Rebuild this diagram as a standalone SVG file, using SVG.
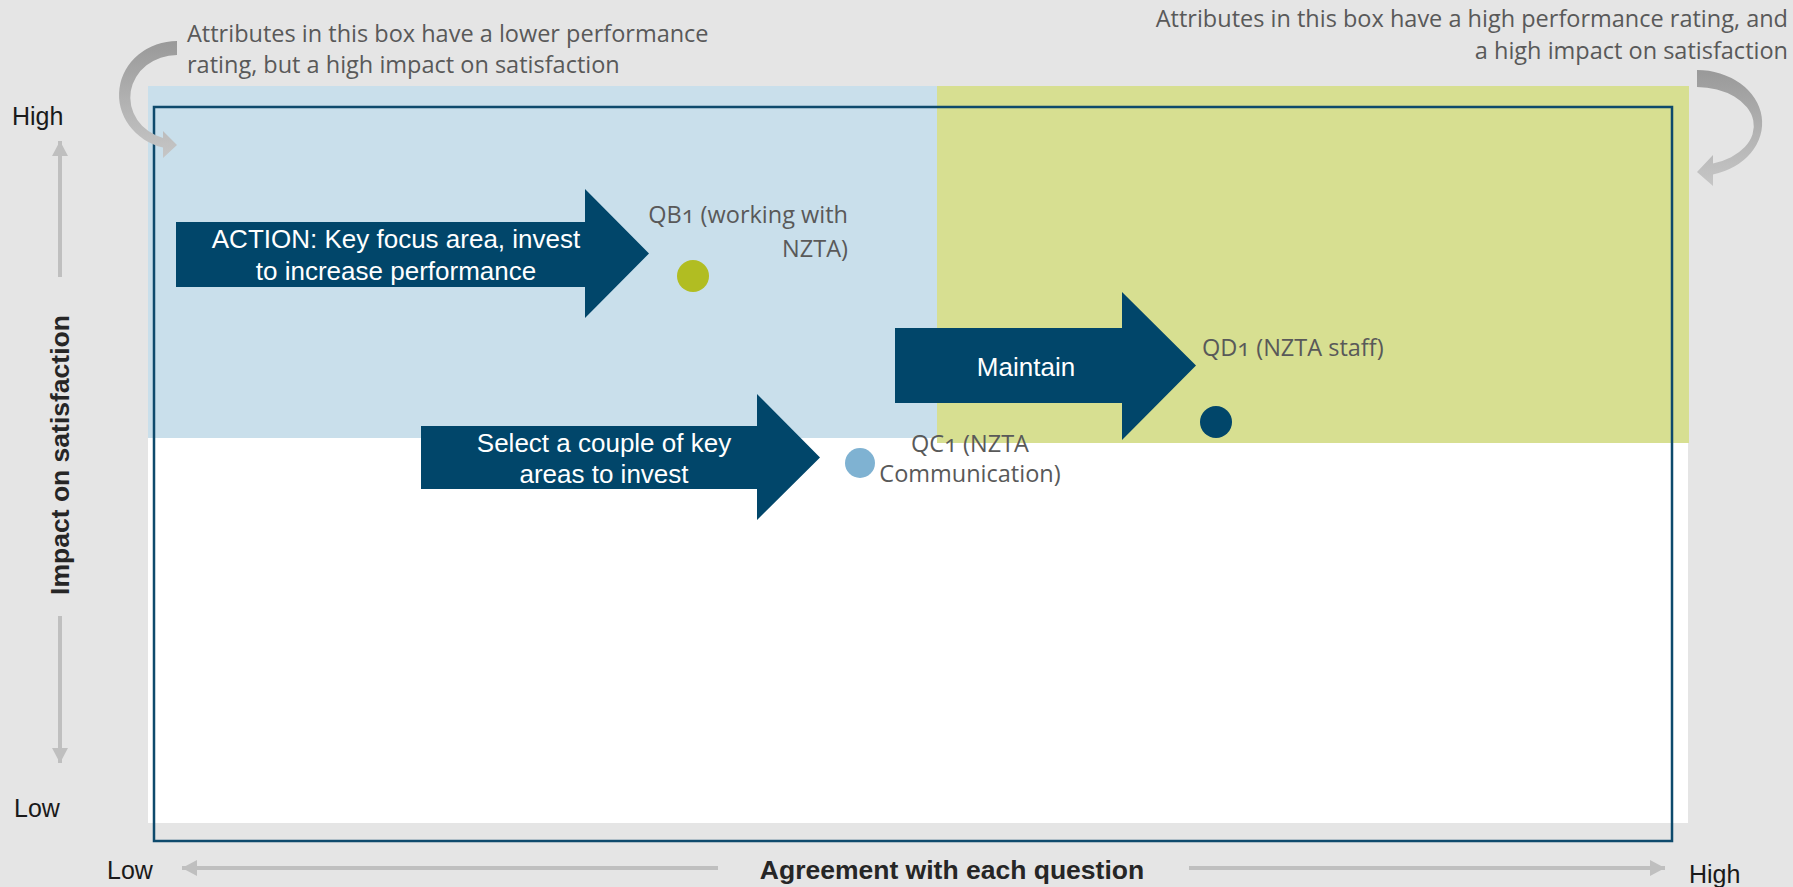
<svg xmlns="http://www.w3.org/2000/svg" width="1793" height="887" viewBox="0 0 1793 887">
  <defs>
    <style>
      .note { font-family: "Open Sans", "Noto Sans", sans-serif; font-size: 23.5px; fill: #595959; }
      .num { font-variant-numeric: oldstyle-nums; font-feature-settings: "onum" 1; }
      .axis { font-family: "Liberation Sans", Arial, sans-serif; font-size: 25px; fill: #1a1a1a; }
      .axis-title { font-family: "Liberation Sans", Arial, sans-serif; font-weight: bold; fill: #262626; }
      .arrow-label { font-family: "Liberation Sans", Arial, sans-serif; font-size: 26px; fill: #ffffff; text-anchor: middle; }
      .action { fill: #01466a; }
      .axis-line { stroke: #bfbfbf; stroke-width: 4; fill: none; marker-end: url(#axisHead); }
    </style>
    <marker id="axisHead" markerUnits="userSpaceOnUse" markerWidth="16" markerHeight="16" refX="15" refY="8" orient="auto">
      <path d="M0,0 L15,8 L0,16 Z" fill="#bfbfbf"/>
    </marker>
    <linearGradient id="curlFill" x1="0" y1="0" x2="0" y2="1">
      <stop offset="0" stop-color="#999999"/>
      <stop offset="0.55" stop-color="#b3b3b3"/>
      <stop offset="1" stop-color="#c6c6c6"/>
    </linearGradient>
  </defs>

  <!-- page -->
  <rect id="page" x="0" y="0" width="1793" height="887" fill="#e5e5e5"/>

  <!-- plot area and quadrants -->
  <g id="plot-area">
    <rect x="148" y="86" width="1540" height="737" fill="#ffffff"/>
    <rect id="quadrant-low-high" x="148" y="86" width="789" height="352" fill="#c9dfeb"/>
    <rect id="quadrant-high-high" x="937" y="86" width="752" height="357" fill="#d7df91"/>
    <rect id="frame" x="154" y="107" width="1518" height="734" fill="none" stroke="#0e4a6c" stroke-width="2.5"/>
  </g>

  <!-- callout notes -->
  <g id="note-left">
    <path d="M177,41 A58,54 0 0 0 163,147.4 L163,158 L177,145 L163,131 L163,138 A47,42.5 0 0 1 177,55 Z" fill="url(#curlFill)"/>
    <text class="note" x="187" y="42">Attributes in this box have a lower performance</text>
    <text class="note" x="187" y="73">rating, but a high impact on satisfaction</text>
  </g>
  <g id="note-right">
    <path d="M1697,70 A65,53 0 0 1 1713,174.4 L1713,186 L1697,172 L1713,155 L1713,163.4 A57,39 0 0 0 1697,87 Z" fill="url(#curlFill)"/>
    <text class="note" x="1788" y="27" text-anchor="end">Attributes in this box have a high performance rating, and</text>
    <text class="note" x="1788" y="59" text-anchor="end">a high impact on satisfaction</text>
  </g>

  <!-- axes -->
  <g id="connectors">
    <line class="axis-line" x1="60" y1="277" x2="60" y2="141"/>
    <line class="axis-line" x1="60" y1="616" x2="60" y2="763"/>
    <line class="axis-line" x1="718" y1="868" x2="182" y2="868"/>
    <line class="axis-line" x1="1189" y1="868" x2="1665" y2="868"/>
  </g>
  <g id="axis-labels">
    <text class="axis" x="12" y="125">High</text>
    <text class="axis" x="14" y="817">Low</text>
    <text class="axis" x="107" y="879">Low</text>
    <text class="axis" x="1689" y="883">High</text>
    <text class="axis-title" font-size="26.5" x="952" y="879" text-anchor="middle">Agreement with each question</text>
    <text class="axis-title" font-size="26.5" transform="translate(69,455) rotate(-90)" text-anchor="middle">Impact on satisfaction</text>
  </g>

  <!-- action arrows -->
  <g id="arrow-action">
    <polygon class="action" points="176,222 585,222 585,189 649,253.5 585,318 585,287 176,287"/>
    <text class="arrow-label" x="396" y="248">ACTION: Key focus area, invest</text>
    <text class="arrow-label" x="396" y="280">to increase performance</text>
  </g>
  <g id="arrow-maintain">
    <polygon class="action" points="895,328 1122,328 1122,292 1196,365.5 1122,440 1122,403 895,403"/>
    <text class="arrow-label" x="1026" y="376">Maintain</text>
  </g>
  <g id="arrow-select">
    <polygon class="action" points="421,426 757,426 757,394 820,457.5 757,520 757,489 421,489"/>
    <text class="arrow-label" x="604" y="452">Select a couple of key</text>
    <text class="arrow-label" x="604" y="483">areas to invest</text>
  </g>

  <!-- data points -->
  <g id="point-qb1">
    <circle cx="693" cy="276" r="16" fill="#b1bd22"/>
    <text class="note num" x="848" y="223" text-anchor="end">QB1 (working with</text>
    <text class="note" x="848" y="257" text-anchor="end">NZTA)</text>
  </g>
  <g id="point-qc1">
    <circle cx="860" cy="463" r="15" fill="#7fb2d2"/>
    <text class="note num" x="970" y="452" text-anchor="middle">QC1 (NZTA</text>
    <text class="note" x="970" y="482" text-anchor="middle">Communication)</text>
  </g>
  <g id="point-qd1">
    <circle cx="1216" cy="422" r="16" fill="#01466a"/>
    <text class="note num" x="1202" y="356">QD1 (NZTA staff)</text>
  </g>
</svg>
